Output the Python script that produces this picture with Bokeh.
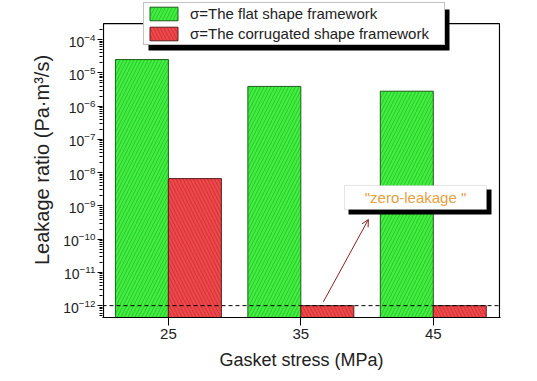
from bokeh.plotting import figure
from bokeh.models import (ColumnDataSource, Legend, LegendItem, Span, Arrow, OpenHead,
                          BoxAnnotation, Label, FixedTicker)
from bokeh.transform import dodge
from bokeh.embed import file_html
from bokeh.resources import INLINE

# ---- data ----
stress = [25, 35, 45]
flat_leak = [2.5e-5, 3.9e-6, 2.8e-6]
corrugated_leak = [6.6e-9, 1.0e-12, 1.0e-12]
zero_leak_level = 1.0e-12
x_ticks = [25, 35, 45]
y_decades = [-12, -11, -10, -9, -8, -7, -6, -5, -4]
flat_label = "σ=The flat shape framework"
corr_label = "σ=The corrugated shape framework"

FONT = "Liberation Sans"

# axis box (visible plotting area) limits
X0, X1 = 20.1, 50.0
Y0, Y1 = 4.4e-13, 3.0e-4

src = ColumnDataSource(dict(stress=stress, flat=flat_leak, corr=corrugated_leak))

# frame extends slightly beyond the drawn box so the legend can overlap the box top
p = figure(width=537, height=381, output_backend="svg", toolbar_location=None,
           y_axis_type="log", x_range=(20.025, 50.075), y_range=(Y0, 1.3e-3),
           min_border_left=102, min_border_right=37, min_border_top=2, min_border_bottom=64)
p.outline_line_color = None
p.xgrid.visible = False
p.ygrid.visible = False
p.background_fill_color = "white"

g = p.vbar(x=dodge("stress", -2, range=p.x_range), top="flat", bottom=1e-14, width=4, source=src,
           fill_color="#3ff03f", line_color="#1e5e1e", line_width=1,
           hatch_pattern="/", hatch_color="#1e7a1e", hatch_alpha=0.7, hatch_scale=7, hatch_weight=0.6)
r = p.vbar(x=dodge("stress", 2, range=p.x_range), top="corr", bottom=1e-14, width=4, source=src,
           fill_color="#f2474a", line_color="#5e1e1e", line_width=1,
           hatch_pattern="\\", hatch_color="#8a1a1a", hatch_alpha=0.7, hatch_scale=7, hatch_weight=0.6)

# drawn axis box
p.quad(left=[X0], right=[X1], bottom=[Y0], top=[Y1], fill_color=None,
       line_color="black", line_width=1.2)

p.add_layout(Span(location=zero_leak_level, dimension="width", line_color="black",
                  line_dash="4 3", line_width=1))

# axes
p.xaxis.ticker = FixedTicker(ticks=x_ticks)
p.xaxis.minor_tick_line_color = None
p.xaxis.major_tick_out = 8
p.xaxis.major_tick_in = 0
p.xaxis.major_label_standoff = 3
major_y = [10.0 ** d for d in y_decades]
minor_y = [m * 10.0 ** d for d in y_decades + [-13] for m in range(2, 10) if Y0 <= m * 10.0 ** d <= Y1]
p.yaxis.ticker = FixedTicker(ticks=major_y, minor_ticks=minor_y)
p.yaxis.axis_line_color = None
p.yaxis.major_tick_out = 5
p.yaxis.major_tick_in = 0
p.yaxis.minor_tick_out = 3
p.yaxis.minor_tick_in = 0
p.yaxis.major_label_standoff = 2
for ax in (p.xaxis, p.yaxis):
    ax.major_label_text_font = FONT
    ax.major_label_text_color = "#222222"
    ax.axis_label_text_font = FONT
    ax.axis_label_text_font_style = "normal"
    ax.axis_label_text_color = "#222222"
p.xaxis.axis_line_color = "black"
p.xaxis.major_label_text_font_size = "15px"
p.yaxis.major_label_text_font_size = "14px"
p.xaxis.axis_label_text_font_size = "18px"
p.yaxis.axis_label_text_font_size = "20px"
p.xaxis.axis_label = "Gasket stress (MPa)"
p.yaxis.axis_label = "Leakage ratio (Pa·m³/s)"
p.xaxis.axis_label_standoff = 8
p.yaxis.axis_label_standoff = 7

# zero-leakage annotation (screen offsets from the frame's bottom-left)
p.add_layout(BoxAnnotation(left=246, right=389, bottom=103, top=128,
                           left_units="screen", right_units="screen",
                           bottom_units="screen", top_units="screen",
                           fill_color="black", fill_alpha=1, line_color=None, level="annotation"))
p.add_layout(BoxAnnotation(left=242, right=384, bottom=108, top=132,
                           left_units="screen", right_units="screen",
                           bottom_units="screen", top_units="screen",
                           fill_color="white", fill_alpha=1, line_color="#aaaaaa", line_width=1,
                           level="annotation"))
p.add_layout(Label(x=313, y=120, x_units="screen", y_units="screen", text='"zero-leakage "',
                   text_font=FONT, text_font_size="15px", text_color="#e8a040",
                   text_align="center", text_baseline="middle"))
p.add_layout(Arrow(end=OpenHead(size=7, line_color="#8b2020", line_width=1),
                   x_start=36.7, y_start=1.3e-12, x_end=40.1, y_end=3.9e-10,
                   line_color="#8b2020", line_width=1))

# legend shadow + legend
p.add_layout(BoxAnnotation(left=46, right=347, bottom=267, top=308,
                           left_units="screen", right_units="screen",
                           bottom_units="screen", top_units="screen",
                           fill_color="black", fill_alpha=1, line_color=None, level="annotation"))
legend = Legend(items=[LegendItem(label=flat_label, renderers=[g]),
                       LegendItem(label=corr_label, renderers=[r])],
                location=(41, 272), padding=2, spacing=3, margin=0,
                glyph_width=35, glyph_height=17, label_height=17, label_width=252,
                label_standoff=9,
                label_text_font=FONT, label_text_font_size="15px", label_text_color="#222222",
                border_line_color="#888888", border_line_width=1, background_fill_alpha=1)
p.add_layout(legend, "center")

open("out.html", "w").write(file_html(p, INLINE))
